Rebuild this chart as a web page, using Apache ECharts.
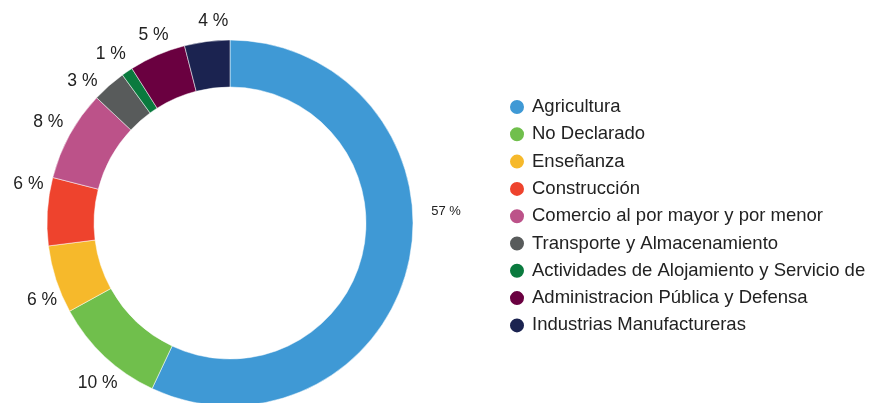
<!DOCTYPE html>
<html>
<head>
<meta charset="utf-8">
<script src="https://cdn.jsdelivr.net/npm/echarts@6/dist/echarts.min.js"></script>
<style>
  html, body { margin: 0; padding: 0; background: #ffffff; }
  #chart { width: 873px; height: 403px; }
</style>
</head>
<body>
<div id="chart"></div>
<script>
// Sectors of economic activity, share of employed people (%)
const categories = [
  'Agricultura',
  'No Declarado',
  'Enseñanza',
  'Construcción',
  'Comercio al por mayor y por menor',
  'Transporte y Almacenamiento',
  'Actividades de Alojamiento y Servicio de',
  'Administracion Pública y Defensa',
  'Industrias Manufactureras'
];
const values = [57, 10, 6, 6, 8, 3, 1, 5, 4];
const colors = [
  '#3f99d5', '#70bf4c', '#f6b92b', '#ee432d', '#bc5289',
  '#585b5b', '#0a7a3e', '#6a0040', '#1b2350'
];

const FONT = 'Liberation Sans, Arial, sans-serif';
const TEXT = '#222222';

// Small hand nudges for the percent labels so neighbours keep clear of each other
const LABEL_NUDGE = [
  [16, -56], [8, 11], [7, 14], [3, -26], [-2, -2],
  [-12, 12], [-4, 1], [5, 0], [9, 2]
];

const ringData = categories.map((name, i) => {
  const item = { name: name, value: values[i], itemStyle: { color: colors[i] } };
  // the large slice carries a smaller label
  if (i === 0) item.label = { fontSize: 13 };
  return item;
});

const chart = echarts.init(document.getElementById('chart'), null, { renderer: 'canvas' });
chart.setOption({
  animation: false,
  backgroundColor: '#ffffff',
  color: colors,
  legend: {
    orient: 'vertical',
    left: 503,
    top: 92.5,
    icon: 'circle',
    itemWidth: 16,
    itemHeight: 16,
    itemGap: 8.3,
    selectedMode: false,
    data: categories.map((name, i) => ({ name: name, itemStyle: { color: colors[i] } })),
    textStyle: {
      fontFamily: FONT, fontSize: 18.5, lineHeight: 18, color: TEXT,
      padding: [0, 0, 0, 2]
    }
  },
  series: [
    {
      type: 'pie',
      name: 'Sectores',
      center: [230, 223],
      radius: [136, 183],
      startAngle: 90,
      clockwise: true,
      avoidLabelOverlap: false,
      itemStyle: { borderColor: '#ffffff', borderWidth: 0.5 },
      label: {
        show: true,
        position: 'outside',
        formatter: '{c} %',
        fontFamily: FONT,
        fontSize: 17.5,
        color: TEXT,
        distanceToLabelLine: 0
      },
      labelLine: { show: false, length: 22, length2: 0 },
      // centre every label on the end of its (hidden) radial leader
      labelLayout: function (params) {
        const r = params.labelRect;
        const anchorX = params.align === 'right' ? r.x + r.width : r.x;
        const nudge = LABEL_NUDGE[params.dataIndex];
        return {
          x: anchorX + nudge[0],
          y: r.y + r.height / 2 + nudge[1],
          align: 'center',
          verticalAlign: 'middle'
        };
      },
      emphasis: { disabled: true },
      data: ringData
    }
  ]
});
</script>
</body>
</html>
